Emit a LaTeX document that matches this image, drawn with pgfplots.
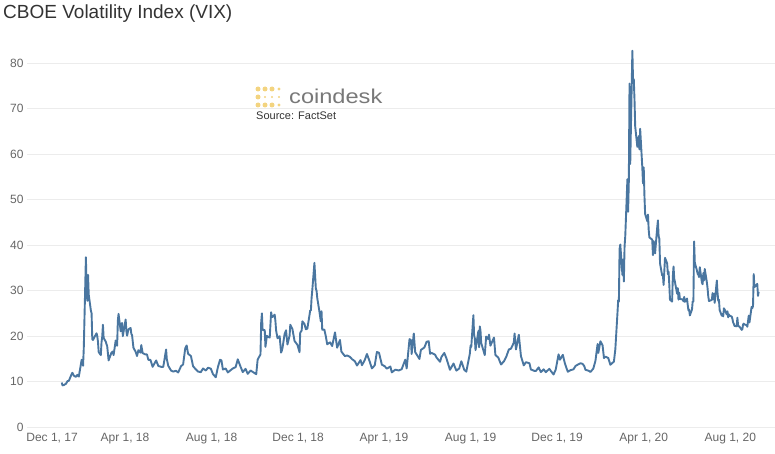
\documentclass[border=0pt]{standalone}
\usepackage{fontspec}
\setmainfont{Liberation Sans}
\usepackage{pgfplots}
\pgfplotsset{compat=1.18}
\usepgfplotslibrary{dateplot}
\definecolor{vixblue}{RGB}{74,118,160}
\definecolor{tickgray}{RGB}{102,102,102}
\definecolor{gridgray}{RGB}{236,236,236}
\definecolor{titlegray}{RGB}{51,51,51}
\definecolor{gold}{RGB}{243,212,128}
\definecolor{cdgray}{RGB}{120,120,120}
\begin{document}
\begin{tikzpicture}
\path[use as bounding box] (0,0) rectangle (775pt,453pt);
\begin{axis}[
  at={(27pt,26pt)}, anchor=south west,
  scale only axis, width=748pt, height=386.75pt,
  date coordinates in=x, date ZERO=2017-12-01,
  xmin=2017-11-14, xmax=2020-10-03,
  ymin=0, ymax=85,
  xtick={2017-12-01,2018-04-01,2018-08-01,2018-12-01,2019-04-01,2019-08-01,2019-12-01,2020-04-01,2020-08-01},
  xticklabels={{\hspace*{26pt}Dec 1, 17},{Apr 1, 18},{Aug 1, 18},{Dec 1, 18},{Apr 1, 19},{Aug 1, 19},{Dec 1, 19},{Apr 1, 20},{Aug 1, 20}},
  ytick={0,10,20,30,40,50,60,70,80},
  axis line style={draw=none},
  major tick length=0pt,
  ymajorgrids, xmajorgrids=false,
  grid style={draw=gridgray, line width=0.8pt},
  tick label style={font=\fontsize{12}{14}\selectfont, text=tickgray},
  xticklabel style={yshift=-3pt},
  /pgf/number format/assume math mode=true,
]
\addplot[color=vixblue, line width=1.9pt, line join=round, mark=none] table[x=date, y=vix] {
date vix
2018-01-02 9.77
2018-01-03 9.15
2018-01-05 9.22
2018-01-08 9.52
2018-01-10 10.08
2018-01-12 10.16
2018-01-16 11.66
2018-01-17 11.91
2018-01-19 11.27
2018-01-22 11.03
2018-01-24 11.47
2018-01-26 11.08
2018-01-29 13.84
2018-01-30 14.79
2018-02-01 13.47
2018-02-02 17.31
2018-02-05 37.32
2018-02-06 29.98
2018-02-07 27.73
2018-02-08 33.46
2018-02-09 29.06
2018-02-12 25.61
2018-02-13 24.97
2018-02-14 19.26
2018-02-15 19.13
2018-02-16 19.46
2018-02-20 20.60
2018-02-21 20.02
2018-02-22 18.72
2018-02-23 16.49
2018-02-26 15.80
2018-02-27 18.59
2018-02-28 19.85
2018-03-01 22.47
2018-03-02 19.59
2018-03-05 18.73
2018-03-07 17.76
2018-03-09 14.64
2018-03-13 16.35
2018-03-15 16.59
2018-03-16 15.80
2018-03-19 19.02
2018-03-21 17.86
2018-03-22 23.34
2018-03-23 24.87
2018-03-26 21.03
2018-03-27 22.50
2018-03-28 22.87
2018-03-29 19.97
2018-04-02 23.62
2018-04-03 21.10
2018-04-04 20.06
2018-04-06 21.49
2018-04-09 21.77
2018-04-10 20.47
2018-04-11 20.24
2018-04-13 17.41
2018-04-16 16.56
2018-04-18 15.60
2018-04-20 16.88
2018-04-23 16.34
2018-04-24 18.02
2018-04-26 16.24
2018-04-30 15.93
2018-05-02 15.97
2018-05-04 14.77
2018-05-07 14.75
2018-05-10 13.23
2018-05-15 14.63
2018-05-18 13.42
2018-05-22 13.22
2018-05-25 13.22
2018-05-29 17.02
2018-05-30 14.94
2018-06-01 13.46
2018-06-05 12.40
2018-06-08 12.18
2018-06-12 12.35
2018-06-15 11.98
2018-06-19 13.35
2018-06-22 13.77
2018-06-25 17.33
2018-06-27 17.91
2018-06-29 16.09
2018-07-03 15.60
2018-07-06 13.37
2018-07-10 12.64
2018-07-13 12.18
2018-07-17 12.06
2018-07-20 12.86
2018-07-24 12.41
2018-07-27 13.03
2018-07-31 12.83
2018-08-03 11.64
2018-08-07 10.93
2018-08-10 13.16
2018-08-13 14.78
2018-08-15 14.64
2018-08-17 12.64
2018-08-21 12.86
2018-08-24 11.99
2018-08-28 12.50
2018-08-31 12.86
2018-09-04 13.16
2018-09-07 14.88
2018-09-11 13.22
2018-09-14 12.07
2018-09-18 12.79
2018-09-21 11.68
2018-09-25 12.42
2018-09-28 12.12
2018-10-03 11.61
2018-10-05 14.82
2018-10-09 15.95
2018-10-10 22.96
2018-10-11 24.98
2018-10-12 21.31
2018-10-15 21.30
2018-10-16 17.62
2018-10-18 20.06
2018-10-19 19.89
2018-10-22 19.64
2018-10-24 25.23
2018-10-25 24.22
2018-10-26 24.16
2018-10-29 24.70
2018-10-30 23.35
2018-10-31 21.23
2018-11-02 19.51
2018-11-05 19.96
2018-11-07 16.36
2018-11-08 16.72
2018-11-09 17.36
2018-11-12 20.45
2018-11-14 21.25
2018-11-16 18.14
2018-11-19 20.10
2018-11-20 22.48
2018-11-23 21.52
2018-11-26 18.90
2018-11-28 18.49
2018-11-30 18.07
2018-12-03 16.44
2018-12-04 20.74
2018-12-06 21.19
2018-12-07 23.23
2018-12-10 22.64
2018-12-12 21.46
2018-12-14 21.63
2018-12-17 24.52
2018-12-18 25.58
2018-12-19 25.58
2018-12-20 28.38
2018-12-21 30.11
2018-12-24 36.07
2018-12-26 30.41
2018-12-27 29.96
2018-12-28 28.34
2018-12-31 25.42
2019-01-02 23.22
2019-01-03 25.45
2019-01-04 21.38
2019-01-07 21.40
2019-01-09 19.98
2019-01-11 18.19
2019-01-15 18.60
2019-01-18 17.80
2019-01-22 20.80
2019-01-25 17.42
2019-01-29 19.13
2019-01-31 16.57
2019-02-05 15.57
2019-02-08 15.72
2019-02-12 15.43
2019-02-15 14.91
2019-02-19 14.46
2019-02-22 13.51
2019-02-27 14.70
2019-03-01 13.57
2019-03-05 14.74
2019-03-08 16.05
2019-03-12 14.33
2019-03-15 12.88
2019-03-19 13.56
2019-03-22 16.48
2019-03-25 16.33
2019-03-29 13.71
2019-04-02 13.36
2019-04-05 12.82
2019-04-10 13.30
2019-04-12 12.01
2019-04-17 12.60
2019-04-22 12.42
2019-04-26 12.73
2019-05-01 14.80
2019-05-03 12.87
2019-05-07 19.32
2019-05-09 19.10
2019-05-10 16.04
2019-05-13 20.55
2019-05-15 16.44
2019-05-17 15.96
2019-05-21 14.95
2019-05-23 16.92
2019-05-28 17.50
2019-05-31 18.71
2019-06-03 18.86
2019-06-05 16.09
2019-06-07 16.30
2019-06-12 15.91
2019-06-14 15.28
2019-06-19 14.33
2019-06-21 15.40
2019-06-25 16.28
2019-06-28 15.08
2019-07-03 12.57
2019-07-08 13.96
2019-07-12 12.39
2019-07-16 12.86
2019-07-19 14.45
2019-07-23 12.61
2019-07-26 12.16
2019-07-31 16.12
2019-08-01 17.87
2019-08-02 17.61
2019-08-05 24.59
2019-08-06 20.17
2019-08-07 19.49
2019-08-08 16.91
2019-08-09 17.97
2019-08-12 21.09
2019-08-13 17.52
2019-08-14 22.10
2019-08-15 21.18
2019-08-16 18.47
2019-08-19 16.88
2019-08-21 15.80
2019-08-23 19.87
2019-08-26 19.32
2019-08-27 20.31
2019-08-29 17.88
2019-09-03 19.66
2019-09-05 15.82
2019-09-09 15.27
2019-09-13 13.74
2019-09-17 14.44
2019-09-20 15.32
2019-09-24 17.05
2019-09-27 17.22
2019-10-01 18.56
2019-10-02 20.56
2019-10-04 17.04
2019-10-08 20.28
2019-10-11 15.58
2019-10-15 13.54
2019-10-18 14.25
2019-10-23 14.01
2019-10-25 12.65
2019-10-30 12.33
2019-11-01 12.30
2019-11-05 13.10
2019-11-08 12.07
2019-11-12 12.68
2019-11-15 12.05
2019-11-20 12.78
2019-11-22 12.34
2019-11-26 11.54
2019-11-29 12.62
2019-12-03 15.96
2019-12-05 14.80
2019-12-09 15.86
2019-12-12 13.94
2019-12-16 12.14
2019-12-20 12.51
2019-12-24 12.67
2019-12-27 13.43
2019-12-31 13.78
2020-01-03 14.02
2020-01-06 13.85
2020-01-08 13.45
2020-01-10 12.56
2020-01-14 12.39
2020-01-17 12.10
2020-01-21 12.85
2020-01-24 14.56
2020-01-27 18.23
2020-01-28 16.28
2020-01-31 18.84
2020-02-03 17.97
2020-02-05 15.15
2020-02-07 15.47
2020-02-11 15.18
2020-02-14 13.68
2020-02-19 14.38
2020-02-21 17.08
2020-02-24 25.03
2020-02-25 27.85
2020-02-26 27.56
2020-02-27 39.16
2020-02-28 40.11
2020-03-02 33.42
2020-03-03 36.82
2020-03-04 31.99
2020-03-05 39.62
2020-03-06 41.94
2020-03-09 54.46
2020-03-10 47.30
2020-03-11 53.90
2020-03-12 75.47
2020-03-13 57.83
2020-03-16 82.69
2020-03-17 75.91
2020-03-18 76.45
2020-03-19 72.00
2020-03-20 66.04
2020-03-23 61.59
2020-03-24 61.67
2020-03-25 63.95
2020-03-26 61.00
2020-03-27 65.54
2020-03-30 57.08
2020-03-31 53.54
2020-04-01 57.06
2020-04-02 50.91
2020-04-03 46.80
2020-04-06 45.24
2020-04-07 46.70
2020-04-08 43.35
2020-04-09 41.67
2020-04-13 41.17
2020-04-14 37.76
2020-04-15 40.84
2020-04-16 40.11
2020-04-17 38.15
2020-04-20 43.83
2020-04-21 45.41
2020-04-22 41.98
2020-04-23 41.38
2020-04-24 35.93
2020-04-27 33.29
2020-04-28 33.57
2020-04-29 31.23
2020-04-30 34.15
2020-05-01 37.19
2020-05-04 35.97
2020-05-05 33.61
2020-05-06 34.12
2020-05-07 31.44
2020-05-08 27.98
2020-05-11 27.57
2020-05-12 33.04
2020-05-13 35.28
2020-05-14 32.61
2020-05-15 31.89
2020-05-18 29.30
2020-05-19 30.53
2020-05-20 27.99
2020-05-21 29.53
2020-05-22 28.16
2020-05-26 28.01
2020-05-27 27.62
2020-05-28 28.59
2020-05-29 27.51
2020-06-01 28.23
2020-06-02 26.84
2020-06-03 25.66
2020-06-04 25.81
2020-06-05 24.52
2020-06-08 25.81
2020-06-09 27.57
2020-06-10 27.57
2020-06-11 40.79
2020-06-12 36.09
2020-06-15 34.40
2020-06-16 33.67
2020-06-17 33.47
2020-06-18 32.94
2020-06-19 35.12
2020-06-22 31.77
2020-06-23 31.37
2020-06-24 33.84
2020-06-25 32.22
2020-06-26 34.73
2020-06-29 31.78
2020-06-30 30.43
2020-07-01 28.62
2020-07-02 27.68
2020-07-06 27.94
2020-07-07 29.43
2020-07-08 28.08
2020-07-09 29.26
2020-07-10 27.29
2020-07-13 32.19
2020-07-14 29.52
2020-07-15 27.76
2020-07-16 28.00
2020-07-17 25.68
2020-07-20 24.46
2020-07-21 24.84
2020-07-22 24.32
2020-07-23 26.08
2020-07-24 25.84
2020-07-27 24.74
2020-07-28 25.44
2020-07-29 24.10
2020-07-30 24.76
2020-07-31 24.46
2020-08-03 24.28
2020-08-04 23.76
2020-08-05 23.00
2020-08-06 22.65
2020-08-07 22.21
2020-08-10 22.13
2020-08-11 24.03
2020-08-12 22.28
2020-08-13 22.13
2020-08-14 22.05
2020-08-17 21.35
2020-08-18 21.51
2020-08-19 22.54
2020-08-20 22.72
2020-08-21 22.54
2020-08-24 22.37
2020-08-25 22.03
2020-08-26 23.27
2020-08-27 24.47
2020-08-28 22.96
2020-08-31 26.41
2020-09-01 26.12
2020-09-02 26.57
2020-09-03 33.60
2020-09-04 30.75
2020-09-08 31.46
2020-09-09 28.81
2020-09-10 29.71
};
\end{axis}
% title
\node[anchor=base west, inner sep=0pt, text=titlegray, font=\fontsize{19}{22}\selectfont] at (3pt,434pt) {CBOE Volatility Index (VIX)};
% coindesk logo
\foreach \xx in {258,265,272} {\fill[gold] (\xx pt,364pt) circle (2.5pt); \fill[gold] (\xx pt,348pt) circle (2.5pt);}
\fill[gold] (279pt,364pt) circle (1.6pt);
\fill[gold] (279pt,348pt) circle (1.6pt);
\fill[gold] (258pt,356pt) circle (2.5pt);
\foreach \xx in {265,272,279} {\fill[gold] (\xx pt,356pt) circle (1.1pt);}
\node[anchor=base west, inner sep=0pt, text=cdgray, font=\fontsize{20}{24}\selectfont] at (289pt,349.5pt) {\scalebox{1.18}[1]{coindesk}};
\node[anchor=base west, inner sep=0pt, text=titlegray, font=\fontsize{11}{13}\selectfont] at (256pt,333pt) {Source: FactSet};
\end{tikzpicture}
\end{document}
